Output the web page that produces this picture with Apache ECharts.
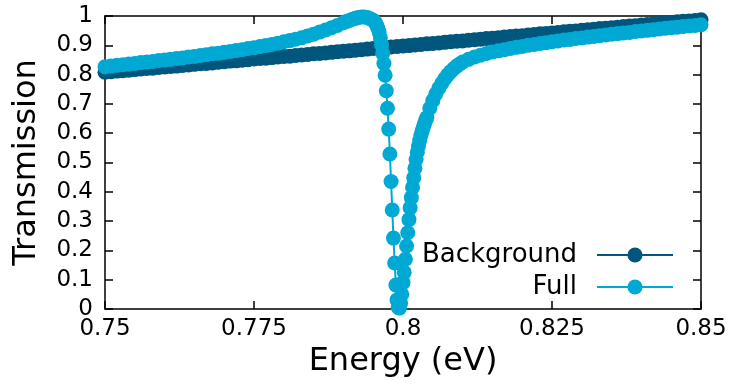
<!DOCTYPE html>
<html>
<head>
<meta charset="utf-8">
<script src="https://cdn.jsdelivr.net/npm/echarts@6/dist/echarts.min.js"></script>
<style>
html,body{margin:0;padding:0;background:#fff;}
#chart{width:732px;height:387px;}
</style>
</head>
<body>
<div id="chart"></div>
<script>
var xTicks = ["0.75", "0.775", "0.8", "0.825", "0.85"];
var yTicks = ["0", "0.1", "0.2", "0.3", "0.4", "0.5", "0.6", "0.7", "0.8", "0.9", "1"];
var seriesNames = ["Background", "Full"];

var bgEnergy = [
0.750,0.751,0.752,0.753,0.754,0.755,0.756,0.757,0.758,0.759,
0.760,0.761,0.762,0.763,0.764,0.765,0.766,0.767,0.768,0.769,
0.770,0.771,0.772,0.773,0.774,0.775,0.776,0.777,0.778,0.779,
0.780,0.781,0.782,0.783,0.784,0.785,0.786,0.787,0.788,0.789,
0.790,0.791,0.792,0.793,0.794,0.795,0.796,0.797,0.798,0.799,
0.800,0.801,0.802,0.803,0.804,0.805,0.806,0.807,0.808,0.809,
0.810,0.811,0.812,0.813,0.814,0.815,0.816,0.817,0.818,0.819,
0.820,0.821,0.822,0.823,0.824,0.825,0.826,0.827,0.828,0.829,
0.830,0.831,0.832,0.833,0.834,0.835,0.836,0.837,0.838,0.839,
0.840,0.841,0.842,0.843,0.844,0.845,0.846,0.847,0.848,0.849,
0.850];
var bgTrans = [
0.808,0.810,0.812,0.813,0.815,0.817,0.819,0.821,0.822,0.824,
0.826,0.828,0.829,0.831,0.833,0.835,0.837,0.838,0.840,0.842,
0.844,0.846,0.847,0.849,0.851,0.853,0.855,0.856,0.858,0.860,
0.862,0.863,0.865,0.867,0.869,0.871,0.872,0.874,0.876,0.878,
0.880,0.881,0.883,0.885,0.887,0.889,0.890,0.892,0.894,0.896,
0.898,0.899,0.901,0.903,0.905,0.906,0.908,0.910,0.912,0.914,
0.915,0.917,0.919,0.921,0.923,0.924,0.926,0.928,0.930,0.932,
0.933,0.935,0.937,0.939,0.940,0.942,0.944,0.946,0.948,0.949,
0.951,0.953,0.955,0.957,0.958,0.960,0.962,0.964,0.966,0.967,
0.969,0.971,0.973,0.974,0.976,0.978,0.980,0.982,0.983,0.985,
0.987];

var fullEnergy = [
0.750,0.751,0.752,0.753,0.754,0.755,0.756,0.757,0.758,0.759,
0.760,0.761,0.762,0.763,0.764,0.765,0.766,0.767,0.768,0.769,
0.770,0.771,0.772,0.773,0.774,0.775,0.776,0.777,0.778,0.779,
0.780,0.781,0.782,0.783,0.784,0.785,0.786,0.787,0.788,0.789,
0.7900,0.7905,0.7910,0.7915,0.7920,0.7925,0.7930,0.7935,0.7940,0.7945,0.7950,
0.7952,0.7954,0.7956,0.7958,0.7960,0.7962,0.7964,0.7966,0.7968,0.7970,
0.7972,0.7974,0.7976,0.7978,0.7980,0.7982,0.7984,0.7986,0.7988,0.7990,
0.7992,0.7994,0.7996,0.7998,0.8000,0.8002,0.8004,0.8006,0.8008,0.8010,
0.8012,0.8014,0.8016,0.8018,0.8020,0.8022,0.8024,0.8026,0.8028,0.8030,
0.8032,0.8034,0.8036,0.8038,0.8040,
0.8045,0.8050,0.8055,0.8060,0.8065,0.8070,0.8075,0.8080,0.8085,0.8090,0.8095,0.8100,
0.811,0.812,0.813,0.814,0.815,0.816,0.817,0.818,0.819,
0.820,0.821,0.822,0.823,0.824,0.825,0.826,0.827,0.828,0.829,
0.830,0.831,0.832,0.833,0.834,0.835,0.836,0.837,0.838,0.839,
0.840,0.841,0.842,0.843,0.844,0.845,0.846,0.847,0.848,0.849,
0.850];
var fullTrans = [
0.827,0.829,0.832,0.834,0.836,0.838,0.841,0.843,0.845,0.848,
0.850,0.852,0.855,0.857,0.860,0.862,0.865,0.868,0.871,0.873,
0.876,0.879,0.882,0.885,0.889,0.892,0.896,0.899,0.903,0.907,
0.912,0.916,0.921,0.926,0.932,0.938,0.945,0.952,0.960,0.968,
0.977,0.981,0.985,0.989,0.992,0.995,0.997,0.997,0.995,0.991,0.985,
0.981,0.976,0.968,0.958,0.945,0.925,0.902,0.872,0.838,0.798,
0.745,0.685,0.614,0.529,0.435,0.338,0.242,0.157,0.082,0.031,
0.005,0.003,0.020,0.050,0.090,0.125,0.170,0.215,0.260,0.305,
0.345,0.380,0.415,0.448,0.480,0.510,0.535,0.556,0.575,0.592,
0.607,0.620,0.632,0.643,0.653,
0.685,0.711,0.734,0.753,0.770,0.786,0.799,0.810,0.820,0.829,0.836,0.843,
0.852,0.860,0.866,0.872,0.877,0.881,0.885,0.889,0.893,
0.896,0.900,0.903,0.906,0.909,0.912,0.915,0.918,0.920,0.923,
0.925,0.928,0.930,0.933,0.935,0.938,0.940,0.942,0.944,0.947,
0.949,0.951,0.953,0.956,0.958,0.960,0.962,0.964,0.966,0.968,
0.970];

function pairs(xs, ys) {
  var out = [];
  for (var i = 0; i < xs.length; i++) out.push([xs[i], ys[i]]);
  return out;
}

var FONT = "DejaVu Sans";
var chart = echarts.init(document.getElementById('chart'), null, {renderer: 'canvas'});

var axisLineStyle = {color: '#000', width: 1.5};
var xCommon = {
  type: 'value', min: 0.75, max: 0.85, interval: 0.025,
  splitLine: {show: false},
  axisLine: {show: true, onZero: false, lineStyle: axisLineStyle},
  axisTick: {show: true, inside: true, length: 8, lineStyle: {color: '#000', width: 1.5}}
};
var yCommon = {
  type: 'value', min: 0, max: 1, interval: 0.1,
  splitLine: {show: false},
  axisLine: {show: true, onZero: false, lineStyle: axisLineStyle},
  axisTick: {show: true, inside: true, length: 8, lineStyle: {color: '#000', width: 1.5}}
};

chart.setOption({
  animation: false,
  backgroundColor: '#fff',
  grid: {left: 105, right: 31, top: 16, bottom: 78, containLabel: false},
  xAxis: [
    Object.assign({}, xCommon, {
      position: 'bottom',
      name: 'Energy (eV)', nameLocation: 'middle', nameGap: 34,
      nameTextStyle: {fontFamily: FONT, fontSize: 32, color: '#000'},
      axisLabel: {
        show: true, margin: 9, fontFamily: FONT, fontSize: 23, color: '#000',
        formatter: function (v) {
          var idx = Math.round((v - 0.75) / 0.025);
          return xTicks[idx] !== undefined ? xTicks[idx] : '';
        }
      }
    }),
    Object.assign({}, xCommon, {position: 'top', axisLabel: {show: false}})
  ],
  yAxis: [
    Object.assign({}, yCommon, {
      position: 'left',
      name: 'Transmission', nameLocation: 'middle', nameGap: 62, nameRotate: 90,
      nameTextStyle: {fontFamily: FONT, fontSize: 32, color: '#000'},
      axisLabel: {
        show: true, margin: 12, fontFamily: FONT, fontSize: 23, color: '#000',
        formatter: function (v) {
          var idx = Math.round(v / 0.1);
          return yTicks[idx] !== undefined ? yTicks[idx] : '';
        }
      }
    }),
    Object.assign({}, yCommon, {position: 'right', axisLabel: {show: false}})
  ],
  legend: {
    orient: 'vertical',
    right: 53, top: 237,
    align: 'right',
    itemWidth: 76, itemHeight: 19, itemGap: 6,
    textStyle: {fontFamily: FONT, fontSize: 26, color: '#000', lineHeight: 26, padding: [0, 15, 0, 0]},
    data: seriesNames
  },
  series: [
    {
      name: seriesNames[0], type: 'line', xAxisIndex: 0, yAxisIndex: 0,
      data: pairs(bgEnergy, bgTrans),
      symbol: 'circle', symbolSize: 15, showSymbol: true, showAllSymbol: true,
      color: '#00567c',
      itemStyle: {color: '#00567c'},
      lineStyle: {color: '#00567c', width: 2},
      clip: false, z: 2
    },
    {
      name: seriesNames[1], type: 'line', xAxisIndex: 0, yAxisIndex: 0,
      data: pairs(fullEnergy, fullTrans),
      symbol: 'circle', symbolSize: 15, showSymbol: true, showAllSymbol: true,
      color: '#00a9d4',
      itemStyle: {color: '#00a9d4'},
      lineStyle: {color: '#00a9d4', width: 2},
      clip: false, z: 3
    }
  ]
});
</script>
</body>
</html>
